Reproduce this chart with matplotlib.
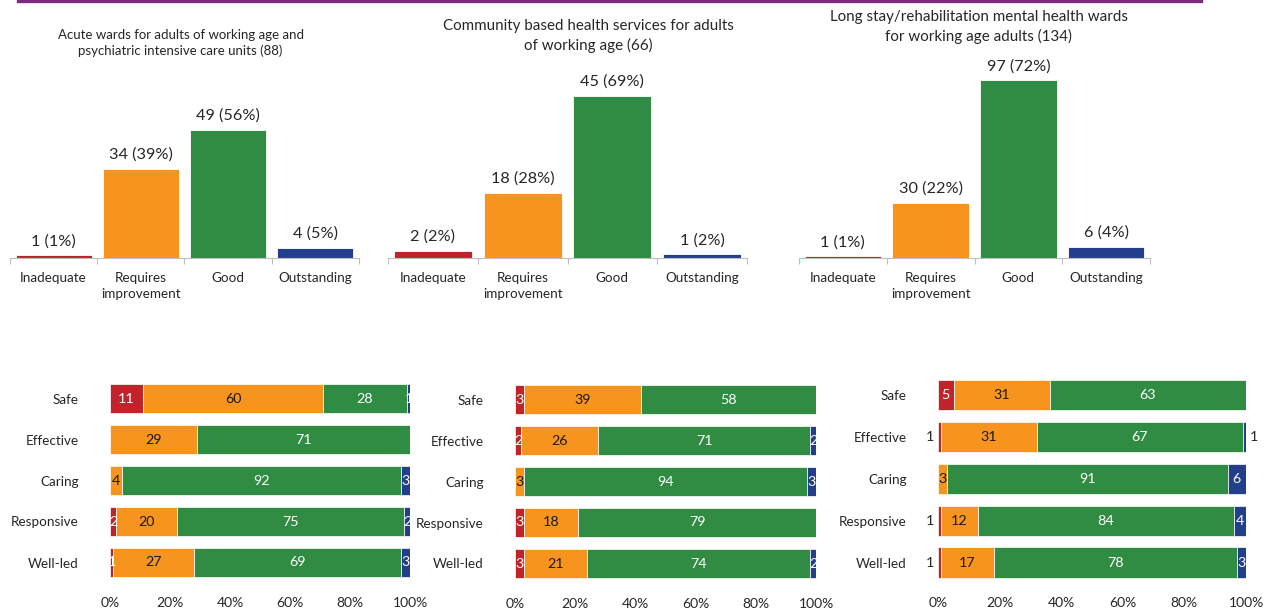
import matplotlib
matplotlib.use("Agg")
import matplotlib.pyplot as plt
from matplotlib.lines import Line2D

plt.rcParams['font.family'] = ['Lato', 'DejaVu Sans']

#### DATA #######################################
RATINGS = ['Inadequate', 'Requires\nimprovement', 'Good', 'Outstanding']
TITLES = ['Acute wards for adults of working age and\npsychiatric intensive care units (88)',
          'Community based health services for adults\nof working age (66)',
          'Long stay/rehabilitation mental health wards\nfor working age adults (134)']

counts_acute = [1, 34, 49, 4]
counts_community = [2, 18, 45, 1]
counts_longstay = [1, 30, 97, 6]
pct_acute = [1, 39, 56, 5]
pct_community = [2, 28, 69, 2]
pct_longstay = [1, 22, 72, 4]

QUESTIONS = ['Safe', 'Effective', 'Caring', 'Responsive', 'Well-led']
# percentages per key question: inadequate, requires improvement, good, outstanding
kq_acute = [[11, 60, 28, 1],
            [0, 29, 71, 0],
            [0, 4, 92, 3],
            [2, 20, 75, 2],
            [1, 27, 69, 3]]
kq_community = [[3, 39, 58, 0],
                [2, 26, 71, 2],
                [0, 3, 94, 3],
                [3, 18, 79, 0],
                [3, 21, 74, 2]]
kq_longstay = [[5, 31, 63, 0],
               [1, 31, 67, 1],
               [0, 3, 91, 6],
               [1, 12, 84, 4],
               [1, 17, 78, 3]]

#### STYLE ######################################
COLORS = ['#C1232B', '#F7941E', '#318C43', '#233F8B']
TEXT_ON = ['white', '#1a1a1a', 'white', 'white']
W, H = 1264, 609


def px(x0, y0, x1, y1):
    # pixel box (top-left origin) -> figure fraction rect
    return [x0 / W, 1 - y1 / H, (x1 - x0) / W, (y1 - y0) / H]


def top_chart(ax, counts, pcts, ytop):
    xs = range(len(counts))
    ax.bar(xs, counts, width=0.87, color=COLORS, edgecolor='white', linewidth=0.6)
    for x, c, p in zip(xs, counts, pcts):
        ax.annotate('%d (%d%%)' % (c, p), (x, c), xytext=(0, 5),
                    textcoords='offset points', ha='center', va='bottom',
                    fontsize=11.7, color='#262626')
    ax.set_xlim(-0.5, len(counts) - 0.5)
    ax.set_ylim(0, ytop)
    ax.set_xticks(list(xs))
    ax.set_xticklabels(RATINGS, fontsize=9.7, color='#262626', linespacing=1.45)
    ax.set_xticks([i - 0.5 for i in range(len(counts) + 1)], minor=True)
    ax.tick_params(axis='x', which='major', length=0, pad=10)
    ax.tick_params(axis='x', which='minor', length=4, color='#bfbfbf', width=0.8)
    ax.set_yticks([])
    for s in ['top', 'right', 'left']:
        ax.spines[s].set_visible(False)
    ax.spines['bottom'].set_color('#bfbfbf')
    ax.spines['bottom'].set_linewidth(0.8)


def kq_chart(ax, rows, height, outside_small):
    for i, row in enumerate(rows):
        total = float(sum(row))
        left = 0.0
        for j, v in enumerate(row):
            w = v / total * 100
            if v > 0:
                ax.barh(i, w, left=left, height=height, color=COLORS[j],
                        edgecolor='white', linewidth=0.5)
                if outside_small and v == 1 and j in (0, 3):
                    if j == 0:
                        ax.text(left - 1.2, i, str(v), ha='right', va='center',
                                fontsize=10.3, color='#262626')
                    else:
                        ax.text(left + w + 1.2, i, str(v), ha='left', va='center',
                                fontsize=10.3, color='#262626')
                else:
                    ax.text(left + w / 2, i, str(v), ha='center', va='center',
                            fontsize=10.3, color=TEXT_ON[j])
            left += w
    ax.set_xlim(0, 100)
    ax.set_ylim(len(rows) - 0.5, -0.5)
    ax.set_yticks(range(len(rows)))
    ax.set_yticklabels(QUESTIONS, fontsize=9.7, color='#262626')
    ax.set_xticks([0, 20, 40, 60, 80, 100])
    ax.set_xticklabels(['0%', '20%', '40%', '60%', '80%', '100%'],
                       fontsize=10, color='#262626')
    ax.tick_params(axis='y', length=0, pad=22.5)
    ax.tick_params(axis='x', length=0, pad=10)
    for s in ax.spines.values():
        s.set_visible(False)


#### BEGIN SCRIPT ###############################
fig = plt.figure(figsize=(W / 100, H / 100), dpi=100)

# purple rule across the top
fig.add_artist(Line2D([18 / W, 1201 / W], [1 - 1.2 / H, 1 - 1.2 / H],
                      color='#7B2A7E', linewidth=2.4))

top_boxes = [(10, 20, 359, 258), (388, 20, 747, 258), (799, 20, 1150, 258)]
top_ylims = [91, 66, 130]
for box, c, p, yt in zip(top_boxes, [counts_acute, counts_community, counts_longstay],
                         [pct_acute, pct_community, pct_longstay], top_ylims):
    top_chart(fig.add_axes(px(*box)), c, p, yt)

title_pos = [(180.5, 43, 9.55), (588, 36, 10.9), (978.5, 27, 10.9)]
for t, (x, y, fs) in zip(TITLES, title_pos):
    fig.text(x / W, 1 - y / H, t, ha='center', va='center', fontsize=fs,
             color='#262626', linespacing=1.35)

kq_boxes = [(110, 378, 410, 583), (515, 379, 816, 584), (938, 374, 1246, 583.5)]
kq_heights = [0.7, 0.7, 0.72]
for box, rows, hgt, out in zip(kq_boxes, [kq_acute, kq_community, kq_longstay],
                               kq_heights, [False, False, True]):
    kq_chart(fig.add_axes(px(*box)), rows, hgt, out)

fig.savefig('out.png', dpi=100)
